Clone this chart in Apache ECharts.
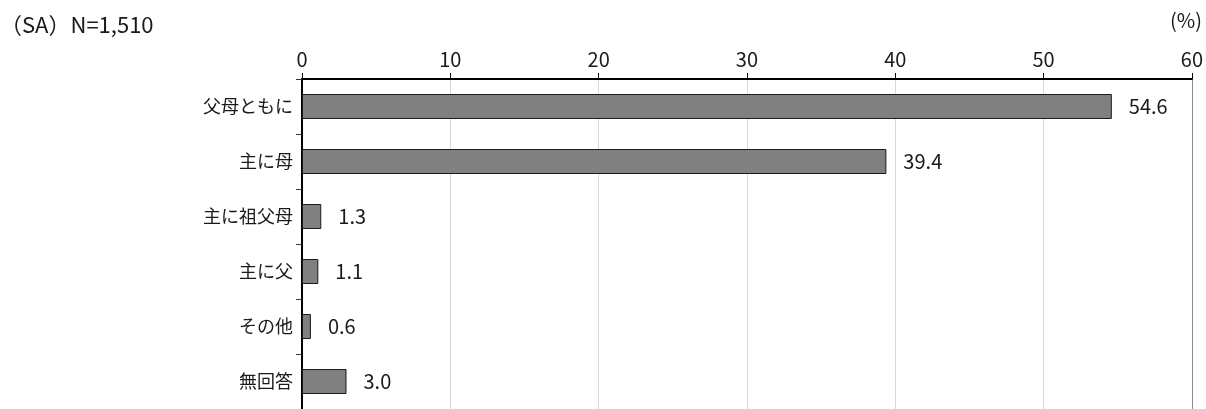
<!DOCTYPE html>
<html><head><meta charset="utf-8">
<script src="https://cdn.jsdelivr.net/npm/echarts@6/dist/echarts.min.js"></script>
<style>html,body{margin:0;padding:0;background:#fff;}#c{width:1206px;height:409px;}</style>
</head><body><div id="c"></div>
<script>
const categories = ['父母ともに','主に母','主に祖父母','主に父','その他','無回答'];
const values = [54.6, 39.4, 1.3, 1.1, 0.6, 3.0];
const xTicks = [0, 10, 20, 30, 40, 50, 60];
const FONT = '"Noto Sans CJK JP", "Noto Sans", sans-serif';
const chart = echarts.init(document.getElementById('c'));
chart.setOption({
  animation: false,
  backgroundColor: '#fff',
  textStyle: {fontFamily: FONT},
  graphic: [
    {type: 'text', left: 0, top: 14, style: {text: '（SA）N=1,510', font: '22px ' + FONT, fill: '#1a1a1a'}},
    {type: 'text', right: 4, top: 10, style: {text: '(%)', font: '20px ' + FONT, fill: '#1a1a1a'}}
  ],
  grid: {left: 302, right: 13, top: 79, bottom: -6, containLabel: false},
  xAxis: {
    type: 'value', position: 'top', min: xTicks[0], max: xTicks[xTicks.length - 1], interval: 10,
    axisLine: {show: true, lineStyle: {color: '#000', width: 2}},
    axisTick: {show: true, length: 6, lineStyle: {color: '#000', width: 1}},
    axisLabel: {fontSize: 20, color: '#1a1a1a', margin: 10, fontFamily: FONT},
    splitLine: {show: true, lineStyle: {color: ['#d9d9d9','#d9d9d9','#d9d9d9','#d9d9d9','#d9d9d9','#d9d9d9','#8c8c8c'], width: 1}}
  },
  yAxis: {
    type: 'category', data: categories, inverse: true,
    axisLine: {show: true, lineStyle: {color: '#000', width: 2}},
    axisTick: {show: true, length: 6, alignWithLabel: false, lineStyle: {color: '#333', width: 1}},
    axisLabel: {fontSize: 18, color: '#1a1a1a', margin: 9, fontFamily: FONT},
    splitLine: {show: false}
  },
  series: [{
    type: 'bar', data: values, barWidth: 25,
    itemStyle: {color: '#808080', borderColor: '#1a1a1a', borderWidth: 1},
    label: {show: true, position: 'right', distance: 17, fontSize: 20, color: '#1a1a1a', fontFamily: FONT,
      formatter: p => p.value.toFixed(1)}
  }]
});
</script></body></html>
